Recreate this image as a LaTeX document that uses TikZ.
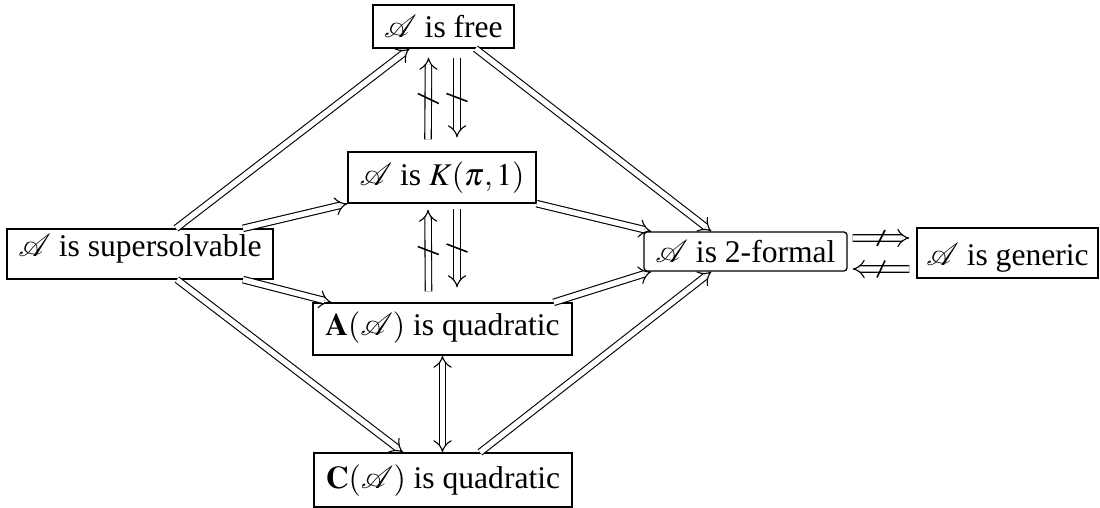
\documentclass[tikz,border=0pt]{standalone}
\usepackage{mathptmx}
\usepackage{mathrsfs}
\usepackage{fontspec}
\setmainfont{Liberation Serif}
\usetikzlibrary{arrows.meta}
\begin{document}
\begin{tikzpicture}[x=0.3165pt,y=-0.3165pt,
  box/.style={draw, line width=0.4pt, inner sep=0pt, anchor=base, align=center},
  imp/.style={double, double distance=1.7pt, line width=0.35pt, -{Implies}},
  biimp/.style={double, double distance=1.7pt, line width=0.35pt, {Implies}-{Implies}},
  slash/.style={line width=0.5pt}]
\useasboundingbox (0,0) rectangle (1100,508);
\node[box, minimum width=44.6pt, text height=10.13pt, text depth=3.48pt] (free) at (443.5,37) {$\mathscr{A}$ is free};
\node[box, minimum width=59.50pt, text height=10.44pt, text depth=5.70pt] (K) at (442,185) {$\mathscr{A}$ is $K(\pi,1)$};
\node[box, minimum width=84.19pt, text height=8.55pt, text depth=7.28pt] (super) at (140,256) {$\mathscr{A}$ is supersolvable};
\node[box, minimum width=81.97pt, text height=10.13pt, text depth=6.33pt] (A) at (442.5,335) {$\mathbf{A}(\mathscr{A})$ is quadratic};
\node[box, minimum width=81.66pt, text height=11.08pt, text depth=6.01pt] (C) at (443,488) {$\mathbf{C}(\mathscr{A})$ is quadratic};
\node[box, rounded corners=1pt, minimum width=64.25pt, text height=9.50pt, text depth=2.85pt] (F2) at (745.5,262) {$\mathscr{A}$ is 2-formal};
\node[box, minimum width=57.29pt, text height=11.71pt, text depth=4.11pt] (G) at (1007.5,265) {$\mathscr{A}$ is generic};
% diagonal implications
\draw[imp] ([shift={(36,0)}]super.north) -- ([shift={(-34,0)}]free.south);
\draw[imp] ([shift={(32,0)}]free.south) -- ([shift={(68,0)}]F2.north west);
\draw[imp] ([shift={(103,0)}]super.north) -- (K.south west);
\draw[imp] (K.south east) -- ([shift={(8,0)}]F2.north west);
\draw[imp] ([shift={(103,0)}]super.south) -- ([shift={(19,0)}]A.north west);
\draw[imp] ([shift={(-19,0)}]A.north east) -- ([shift={(8,0)}]F2.south west);
\draw[imp] ([shift={(37,0)}]super.south) -- ([shift={(-40,0)}]C.north);
\draw[imp] ([shift={(37,0)}]C.north) -- ([shift={(68,0)}]F2.south west);
% vertical non-implications
\draw[imp] ([shift={(-14,-12)}]K.north) -- ([shift={(-15,9)}]free.south) coordinate[pos=.5] (m1);
\draw[slash] ([shift={(-10.5,-5)}]m1) -- ([shift={(10.5,5)}]m1);
\draw[imp] ([shift={(13.5,9)}]free.south) -- ([shift={(15,-14)}]K.north) coordinate[pos=.5] (m2);
\draw[slash] ([shift={(-10.5,-4)}]m2) -- ([shift={(10.5,4)}]m2);
\draw[imp] ([shift={(-14,-11)}]A.north) -- ([shift={(-14,6)}]K.south) coordinate[pos=.5] (m3);
\draw[slash] ([shift={(-10.5,-4)}]m3) -- ([shift={(10.5,4)}]m3);
\draw[imp] ([shift={(15,5)}]K.south) -- ([shift={(14.5,-15)}]A.north) coordinate[pos=.5] (m4);
\draw[slash] ([shift={(-10.5,-4)}]m4) -- ([shift={(10.5,4)}]m4);
% A <=> C
\draw[biimp] (A.south) -- (A.south |- C.north);
% 2-formal vs generic
\draw[imp] ([shift={(5,-13.5)}]F2.east) -- ([shift={(-7,-15)}]G.west) coordinate[pos=.5] (m5);
\draw[slash] ([shift={(-4,8)}]m5) -- ([shift={(4,-8)}]m5);
\draw[imp] ([shift={(-7,16)}]G.west) -- ([shift={(5,17.5)}]F2.east) coordinate[pos=.5] (m6);
\draw[slash] ([shift={(-4,8.5)}]m6) -- ([shift={(4,-8.5)}]m6);
\end{tikzpicture}
\end{document}
